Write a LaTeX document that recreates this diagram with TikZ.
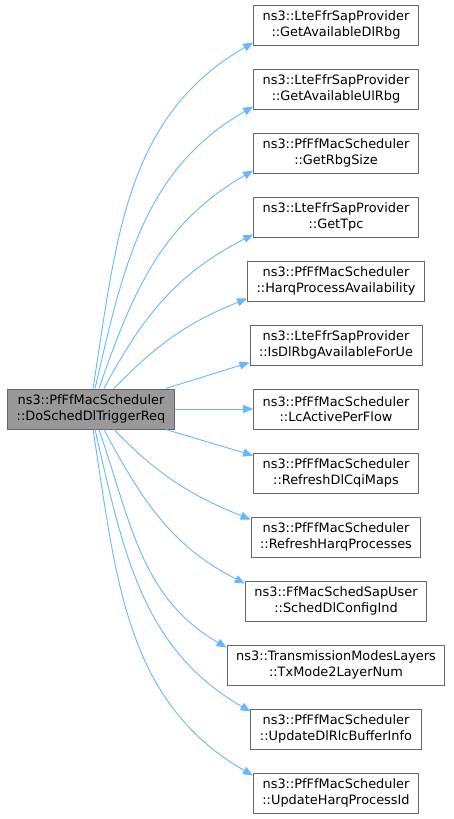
\documentclass[tikz,border=0pt]{standalone}
\usepackage{fontspec}
\setmainfont{DejaVu Sans}
\usetikzlibrary{arrows.meta}
\definecolor{edgeblue}{HTML}{63B8FF}
\definecolor{boxborder}{HTML}{666666}
\definecolor{boxgray}{HTML}{999999}
\begin{document}
\begin{tikzpicture}[x=1pt,y=-1pt,
  fn/.style={draw=boxborder, line width=1pt, fill=white, align=center, minimum height=40pt,
    inner xsep=9pt, inner ysep=2pt, font=\fontsize{12.9}{15.5}\selectfont},
  src/.style={fn, fill=boxgray},
  call/.style={draw=edgeblue, line width=0.9pt, -{Stealth[length=10pt,width=8pt,inset=0pt]}}]
\useasboundingbox (0,0) rectangle (453,819);
\node[src] (L) at (91,409) {ns3::PfFfMacScheduler\\::DoSchedDlTriggerReq};
\node[fn] (r1) at (336,25) {ns3::LteFfrSapProvider\\::GetAvailableDlRbg};
\node[fn] (r2) at (336,89) {ns3::LteFfrSapProvider\\::GetAvailableUlRbg};
\node[fn] (r3) at (336,153) {ns3::PfFfMacScheduler\\::GetRbgSize};
\node[fn] (r4) at (336,217) {ns3::LteFfrSapProvider\\::GetTpc};
\node[fn] (r5) at (336,281) {ns3::PfFfMacScheduler\\::HarqProcessAvailability};
\node[fn] (r6) at (336,345) {ns3::LteFfrSapProvider\\::IsDlRbgAvailableForUe};
\node[fn] (r7) at (336,409) {ns3::PfFfMacScheduler\\::LcActivePerFlow};
\node[fn] (r8) at (336,473) {ns3::PfFfMacScheduler\\::RefreshDlCqiMaps};
\node[fn] (r9) at (336,537) {ns3::PfFfMacScheduler\\::RefreshHarqProcesses};
\node[fn] (r10) at (336,601) {ns3::FfMacSchedSapUser\\::SchedDlConfigInd};
\node[fn] (r11) at (336,665) {ns3::TransmissionModesLayers\\::TxMode2LayerNum};
\node[fn] (r12) at (336,729) {ns3::PfFfMacScheduler\\::UpdateDlRlcBufferInfo};
\node[fn] (r13) at (336,793) {ns3::PfFfMacScheduler\\::UpdateHarqProcessId};

\draw[call] ([xshift=2pt]L.north) to[out=81,in=210] ([yshift=3pt]r1.south west);
\draw[call] ([xshift=4pt]L.north) to[out=77,in=210] ([yshift=3pt]r2.south west);
\draw[call] ([xshift=8pt]L.north) to[out=71,in=210] ([yshift=3pt]r3.south west);
\draw[call] ([xshift=13pt]L.north) to[out=62,in=207] ([yshift=3pt]r4.south west);
\draw[call] ([xshift=23pt]L.north) to[out=46,in=202] ([yshift=3pt]r5.south west);
\draw[call] ([xshift=-9pt]L.north east) -- ([yshift=3pt]r6.south west);
\draw[call] (L.east) -- (r7.west);
\draw[call] ([xshift=-9pt]L.south east) -- ([yshift=-3pt]r8.north west);
\draw[call] ([xshift=23pt]L.south) to[out=-46,in=158] ([yshift=-3pt]r9.north west);
\draw[call] ([xshift=13pt]L.south) to[out=-62,in=153] ([yshift=-3pt]r10.north west);
\draw[call] ([xshift=8pt]L.south) to[out=-71,in=150] ([yshift=-3pt]r11.north west);
\draw[call] ([xshift=4pt]L.south) to[out=-77,in=150] ([yshift=-3pt]r12.north west);
\draw[call] ([xshift=2pt]L.south) to[out=-81,in=150] ([yshift=-3pt]r13.north west);
\end{tikzpicture}
\end{document}
